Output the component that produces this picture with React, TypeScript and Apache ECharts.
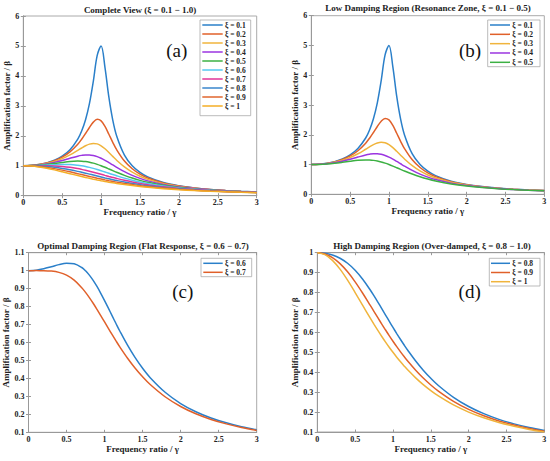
import React, { useEffect, useRef } from "react";
import * as echarts from "echarts";

const GAMMA = [0, 0.1, 0.2, 0.3, 0.4, 0.5, 0.6, 0.7, 0.75, 0.8, 0.85, 0.9, 0.95, 1, 1.05, 1.1, 1.15, 1.2, 1.3, 1.4, 1.5, 1.6, 1.8, 2, 2.2, 2.4, 2.6, 2.8, 3];

const B01 = [1.0, 1.0099, 1.0408, 1.0965, 1.1851, 1.3216, 1.5357, 1.8908, 2.1621, 2.5384, 3.0728, 3.8208, 4.6826, 5.0, 4.2794, 3.288, 2.5245, 1.9952, 1.3562, 1.0, 0.7779, 0.6279, 0.4408, 0.3304, 0.2587, 0.209, 0.1729, 0.1457, 0.1247];
const B02 = [1.0, 1.0093, 1.0381, 1.0895, 1.1695, 1.2883, 1.463, 1.7188, 1.8851, 2.0761, 2.2785, 2.4566, 2.549, 2.5, 2.3131, 2.0511, 1.78, 1.5357, 1.1574, 0.8998, 0.7212, 0.5931, 0.425, 0.3221, 0.2538, 0.2059, 0.1708, 0.1443, 0.1236];
const B03 = [1.0, 1.0082, 1.0336, 1.078, 1.1447, 1.238, 1.3618, 1.5136, 1.5933, 1.6667, 1.7223, 1.7469, 1.7293, 1.6667, 1.5667, 1.4438, 1.3129, 1.1851, 0.9603, 0.7839, 0.6492, 0.5459, 0.4021, 0.3095, 0.2463, 0.2011, 0.1676, 0.142, 0.122];
const B04 = [1.0, 1.0068, 1.0275, 1.0626, 1.1125, 1.1765, 1.25, 1.3203, 1.3467, 1.3618, 1.3616, 1.3429, 1.3051, 1.25, 1.1817, 1.1053, 1.0258, 0.9469, 0.8012, 0.6779, 0.5771, 0.4956, 0.3755, 0.2941, 0.2367, 0.1948, 0.1633, 0.1389, 0.1197];
const B05 = [1.0, 1.005, 1.0198, 1.0436, 1.0748, 1.1094, 1.1399, 1.1546, 1.1517, 1.1399, 1.1184, 1.0871, 1.0471, 1.0, 0.9479, 0.893, 0.8373, 0.7824, 0.6795, 0.5891, 0.5121, 0.4475, 0.348, 0.2774, 0.226, 0.1876, 0.1582, 0.1353, 0.117];
const B06 = [1.0, 1.0028, 1.0106, 1.0218, 1.0336, 1.0412, 1.0381, 1.0176, 0.9993, 0.9753, 0.946, 0.9119, 0.874, 0.8333, 0.791, 0.7482, 0.7056, 0.6641, 0.5862, 0.5168, 0.4563, 0.4042, 0.3214, 0.2603, 0.2146, 0.1797, 0.1527, 0.1312, 0.114];
const B07 = [1.0, 1.0002, 1.0, 0.9978, 0.9905, 0.9747, 0.9469, 0.9052, 0.8791, 0.85, 0.8184, 0.7848, 0.7499, 0.7143, 0.6786, 0.6434, 0.609, 0.5758, 0.5138, 0.4582, 0.4092, 0.3663, 0.2966, 0.2437, 0.2031, 0.1716, 0.1468, 0.1268, 0.1107];
const B08 = [1.0, 0.9972, 0.9882, 0.972, 0.9469, 0.9119, 0.8667, 0.8126, 0.7829, 0.7521, 0.7205, 0.6885, 0.6565, 0.625, 0.5941, 0.5642, 0.5353, 0.5077, 0.4563, 0.4103, 0.3696, 0.3336, 0.2741, 0.228, 0.192, 0.1635, 0.1407, 0.1223, 0.1072];
const B09 = [1.0, 0.9938, 0.9753, 0.945, 0.9039, 0.8536, 0.7966, 0.7357, 0.7047, 0.6737, 0.6431, 0.6131, 0.5838, 0.5556, 0.5283, 0.5022, 0.4773, 0.4536, 0.4099, 0.3708, 0.3361, 0.3053, 0.2539, 0.2134, 0.1813, 0.1556, 0.1347, 0.1177, 0.1036];
const B10 = [1.0, 0.9901, 0.9615, 0.9174, 0.8621, 0.8, 0.7353, 0.6711, 0.64, 0.6098, 0.5806, 0.5525, 0.5256, 0.5, 0.4756, 0.4525, 0.4306, 0.4098, 0.3717, 0.3378, 0.3077, 0.2809, 0.2358, 0.2, 0.1712, 0.1479, 0.1289, 0.1131, 0.1];

const XI_LABELS = ["0.1", "0.2", "0.3", "0.4", "0.5", "0.6", "0.7", "0.8", "0.9", "1"];
const BETAS = [B01, B02, B03, B04, B05, B06, B07, B08, B09, B10];

const COLORS_A = ["#2a7fc9", "#e0602a", "#f0b43c", "#9b35e0", "#3cb043", "#55c8f0", "#e23597", "#3a86cc", "#e0662e", "#f4ae26"];
const COLORS_C = ["#2a7fc9", "#e0602a"];
const COLORS_D = ["#2a7fc9", "#e0602a", "#f0b43c"];

const PANEL_TITLES = [
  "Complete View (ξ = 0.1 − 1.0)",
  "Low Damping Region (Resonance Zone, ξ = 0.1 − 0.5)",
  "Optimal Damping Region (Flat Response, ξ = 0.6 − 0.7)",
  "High Damping Region (Over-damped, ξ = 0.8 − 1.0)",
];
const PANEL_LETTERS = ["(a)", "(b)", "(c)", "(d)"];
const X_NAME = "Frequency ratio / γ";
const Y_NAME = "Amplification factor / β";

const SERIF = '"Liberation Serif", "Times New Roman", serif';

const GRIDS = [
  { left: 23.3, top: 16, width: 233.4, height: 179.7 },
  { left: 311.3, top: 15.7, width: 233, height: 178.6 },
  { left: 28.5, top: 252.7, width: 228.2, height: 179.6 },
  { left: 317.3, top: 252.7, width: 227, height: 179.3 },
];

const Y_RANGES = [
  { min: 0, max: 6, interval: 1, gap: 10 },
  { min: 0, max: 6, interval: 1, gap: 7 },
  { min: 0.1, max: 1.1, interval: 0.1, gap: 14 },
  { min: 0.1, max: 1.0, interval: 0.1, gap: 14 },
];

export default function App() {
  const ref = useRef<HTMLDivElement>(null);
  useEffect(() => {
    if (!ref.current) return;
    const chart = echarts.init(ref.current, undefined, { renderer: "svg" });

    const axisLineStyle = { color: "#999", width: 1 };
    const labelStyle = { fontFamily: SERIF, fontSize: 8, fontWeight: "bold" as const, color: "#222" };
    const nameStyle = { fontFamily: SERIF, fontSize: 9, fontWeight: "bold" as const, color: "#222" };

    const xAxes: any[] = [];
    const yAxes: any[] = [];
    GRIDS.forEach((_, i) => {
      xAxes.push({
        type: "value", gridIndex: i, min: 0, max: 3, interval: 0.5,
        axisLine: { show: true, lineStyle: axisLineStyle },
        axisTick: { show: true, inside: true, length: 2.5, lineStyle: axisLineStyle },
        splitLine: { show: false },
        axisLabel: { ...labelStyle, margin: 3 },
        name: X_NAME, nameLocation: "middle", nameGap: 12, nameTextStyle: nameStyle,
      });
      xAxes.push({
        type: "value", gridIndex: i, min: 0, max: 3, interval: 0.5, position: "top",
        axisLine: { show: true, lineStyle: axisLineStyle },
        axisTick: { show: true, inside: true, length: 2.5, lineStyle: axisLineStyle },
        splitLine: { show: false }, axisLabel: { show: false },
      });
      const yr = Y_RANGES[i];
      yAxes.push({
        type: "value", gridIndex: i, min: yr.min, max: yr.max, interval: yr.interval,
        axisLine: { show: true, lineStyle: axisLineStyle },
        axisTick: { show: true, inside: true, length: 2.5, lineStyle: axisLineStyle },
        splitLine: { show: false },
        axisLabel: { ...labelStyle, margin: 4 },
        name: Y_NAME, nameLocation: "middle", nameGap: yr.gap, nameTextStyle: nameStyle,
      });
      yAxes.push({
        type: "value", gridIndex: i, min: yr.min, max: yr.max, interval: yr.interval, position: "right",
        axisLine: { show: true, lineStyle: axisLineStyle },
        axisTick: { show: true, inside: true, length: 2.5, lineStyle: axisLineStyle },
        splitLine: { show: false }, axisLabel: { show: false },
      });
    });

    const mk = (panel: number, idx: number, color: string) => ({
      type: "line",
      name: "ξ = " + XI_LABELS[idx],
      xAxisIndex: panel * 2,
      yAxisIndex: panel * 2,
      data: GAMMA.map((g, k) => [g, BETAS[idx][k]]),
      smooth: 0.35,
      showSymbol: false,
      lineStyle: { color, width: 1.5 },
      itemStyle: { color },
      z: 3,
    });

    const series: any[] = [];
    for (let i = 0; i < 10; i++) series.push(mk(0, i, COLORS_A[i]));
    for (let i = 0; i < 5; i++) series.push(mk(1, i, COLORS_A[i]));
    for (let i = 0; i < 2; i++) series.push(mk(2, 5 + i, COLORS_C[i]));
    for (let i = 0; i < 3; i++) series.push(mk(3, 7 + i, COLORS_D[i]));

    const legend = (bx: number, by: number, bw: number, bh: number, ry: number, sp: number,
      lx0: number, lx1: number, tx: number, idxs: number[], colors: string[]) => {
      const els: any[] = [
        { type: "rect", shape: { x: bx, y: by, width: bw, height: bh }, style: { fill: "#fff", stroke: "#aaa", lineWidth: 0.8 }, z: 10 },
      ];
      idxs.forEach((idx, k) => {
        const y = ry + k * sp;
        els.push({ type: "line", shape: { x1: lx0, y1: y, x2: lx1, y2: y }, style: { stroke: colors[k], lineWidth: 1.5 }, z: 11 });
        els.push({
          type: "text", x: tx, y, z: 11,
          style: { text: "ξ = " + XI_LABELS[idx], font: `bold 7.5px ${SERIF}`, fill: "#222", align: "left", verticalAlign: "middle" },
        });
      });
      return els;
    };

    const titlePos = [[140, 10], [428, 7.5], [143, 246], [432, 246]];
    const letterPos = [[176.7, 50], [470, 50], [182.7, 291.7], [469.7, 291.7]];
    const graphics: any[] = [];
    PANEL_TITLES.forEach((t, i) => {
      graphics.push({ type: "text", x: titlePos[i][0], y: titlePos[i][1], z: 12,
        style: { text: t, font: `bold 9px ${SERIF}`, fill: "#222", align: "center", verticalAlign: "middle" } });
      graphics.push({ type: "text", x: letterPos[i][0], y: letterPos[i][1], z: 12,
        style: { text: PANEL_LETTERS[i], font: `19px ${SERIF}`, fill: "#111", align: "center", verticalAlign: "middle" } });
    });
    graphics.push(...legend(200, 20, 50.7, 95.7, 25, 9.0, 202.3, 222.7, 225, [0, 1, 2, 3, 4, 5, 6, 7, 8, 9], COLORS_A));
    graphics.push(...legend(487.7, 20, 52.3, 46.7, 25, 9.33, 490, 510, 512.3, [0, 1, 2, 3, 4], COLORS_A));
    graphics.push(...legend(201, 258.3, 50.7, 18.4, 263.3, 9.0, 203.3, 222.7, 225, [5, 6], COLORS_C));
    graphics.push(...legend(489.3, 258.3, 50.7, 27.7, 263.3, 9.2, 491, 510, 512.3, [7, 8, 9], COLORS_D));

    chart.setOption({
      animation: false,
      backgroundColor: "#fff",
      grid: GRIDS.map((g) => ({ ...g, show: true, borderColor: "#aaa", borderWidth: 1, backgroundColor: "transparent" })),
      xAxis: xAxes,
      yAxis: yAxes,
      series,
      graphic: graphics,
    });
    return () => chart.dispose();
  }, []);
  return <div ref={ref} style={{ position: "absolute", left: 0, top: 0, width: 550, height: 461 }} />;
}
